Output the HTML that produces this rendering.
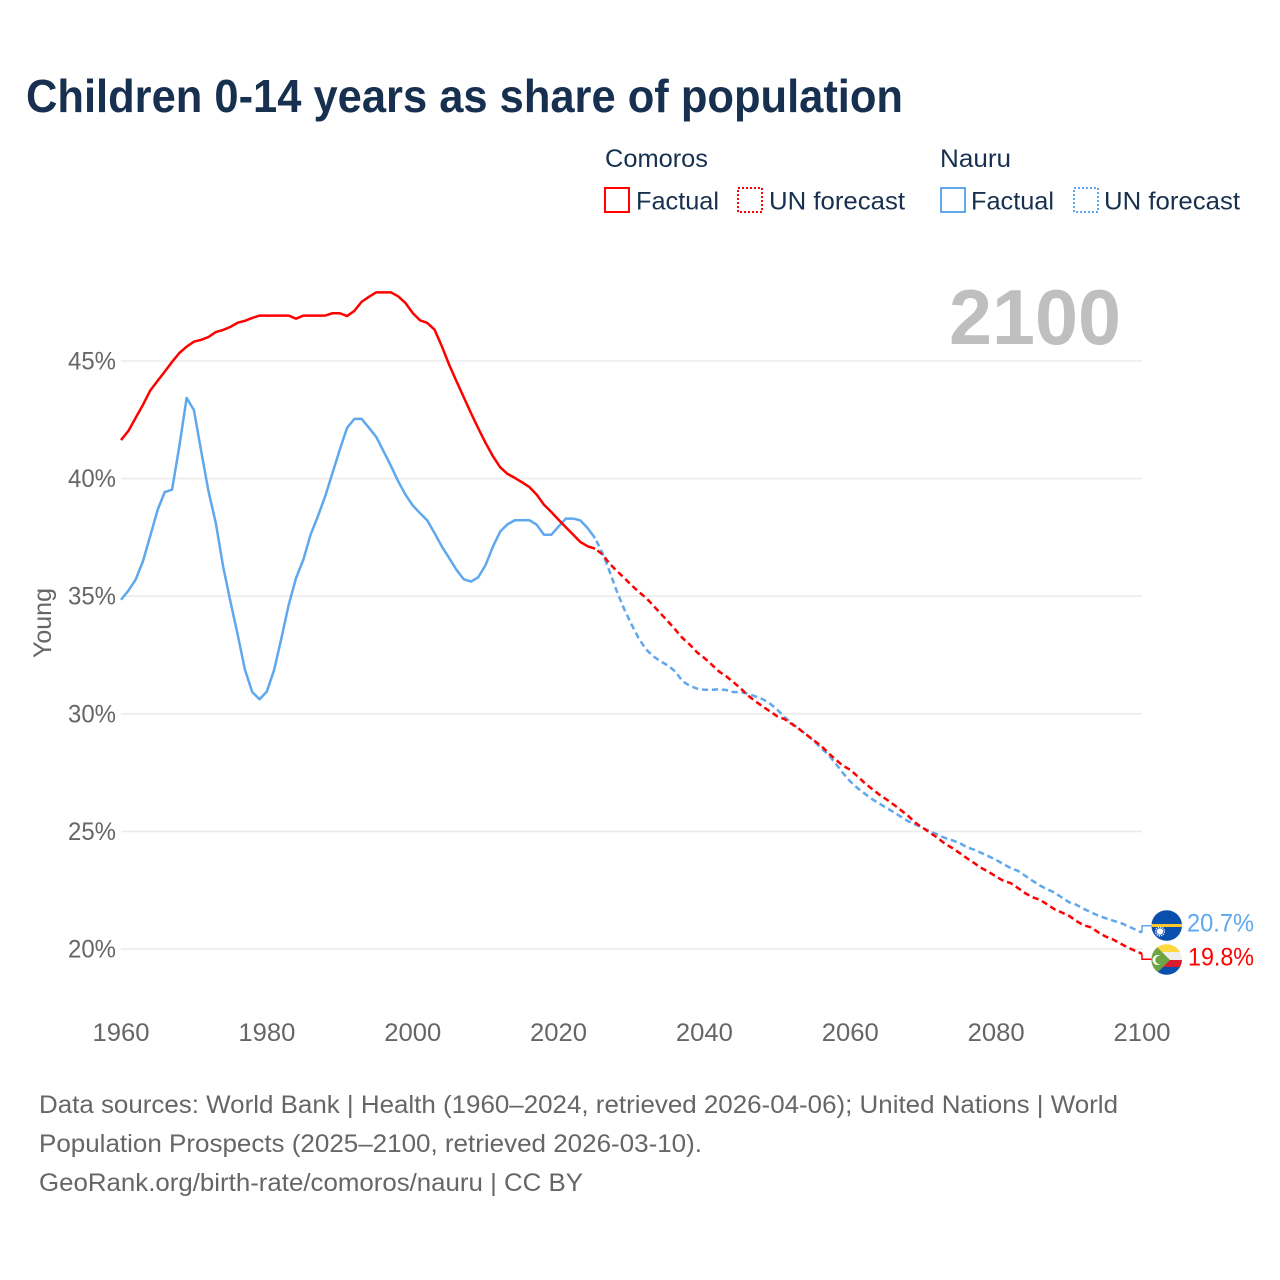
<!DOCTYPE html>
<html lang="en">
<head>
<meta charset="utf-8">
<title>Children 0-14 years as share of population</title>
<style>
html,body{margin:0;padding:0;background:#fff;}
svg{display:block;font-family:"Liberation Sans",sans-serif;}
</style>
</head>
<body>
<svg id="chart" xmlns="http://www.w3.org/2000/svg" width="1280" height="1280" viewBox="0 0 1280 1280">
  <rect width="1280" height="1280" fill="#ffffff"/>
  <text x="26" y="112" font-size="46" font-weight="700" fill="#17304f" textLength="877" lengthAdjust="spacingAndGlyphs">Children 0-14 years as share of population</text>

  <g font-size="25" fill="#17304f">
    <text x="605" y="167" textLength="103" lengthAdjust="spacingAndGlyphs">Comoros</text>
    <rect x="605" y="188" width="24" height="24" fill="none" stroke="#ff0000" stroke-width="2"/>
    <text x="636" y="209.5" textLength="83" lengthAdjust="spacingAndGlyphs">Factual</text>
    <rect x="738" y="188" width="24" height="24" fill="none" stroke="#ff0000" stroke-width="2" stroke-dasharray="2 2"/>
    <text x="769" y="209.5" textLength="136" lengthAdjust="spacingAndGlyphs">UN forecast</text>
  </g>
  <g font-size="25" fill="#17304f">
    <text x="940" y="167" textLength="71" lengthAdjust="spacingAndGlyphs">Nauru</text>
    <rect x="941" y="188" width="24" height="24" fill="none" stroke="#5fa8ee" stroke-width="2"/>
    <text x="971" y="209.5" textLength="83" lengthAdjust="spacingAndGlyphs">Factual</text>
    <rect x="1074" y="188" width="24" height="24" fill="none" stroke="#5fa8ee" stroke-width="2" stroke-dasharray="2 2"/>
    <text x="1104" y="209.5" textLength="136" lengthAdjust="spacingAndGlyphs">UN forecast</text>
  </g>

  <g id="grid"></g>
  <text x="949" y="344" font-size="78" font-weight="700" fill="#bfbfbf" textLength="172" lengthAdjust="spacingAndGlyphs">2100</text>
  <g id="yticks"></g>
  <g id="xticks"></g>
  <text transform="translate(51 658) rotate(-90)" font-size="25" fill="#666666" textLength="70" lengthAdjust="spacingAndGlyphs">Young</text>
  <g id="series"></g>

  <defs>
    <clipPath id="clip-nauru"><circle cx="1166.7" cy="925.5" r="15.3"/></clipPath>
    <clipPath id="clip-comoros"><circle cx="1166.7" cy="959.5" r="15.3"/></clipPath>
  </defs>
  <g clip-path="url(#clip-nauru)">
    <rect x="1151" y="910" width="32" height="31" fill="#0b4fad"/>
    <rect x="1151" y="924" width="32" height="3" fill="#ffc72c"/>
    <circle cx="1160" cy="931.5" r="3.2" fill="#ffffff"/>
    <circle cx="1160" cy="931.5" r="4.4" fill="none" stroke="#ffffff" stroke-width="1.4" stroke-dasharray="1.2 1.1"/>
  </g>
  <g clip-path="url(#clip-comoros)">
    <rect x="1151" y="944" width="32" height="8" fill="#ffd83d"/>
    <rect x="1151" y="952" width="32" height="8" fill="#eeeeee"/>
    <rect x="1151" y="960" width="32" height="7" fill="#d91c2e"/>
    <rect x="1151" y="967" width="32" height="9" fill="#0b4fad"/>
    <polygon points="1151,944 1154,944 1170,960 1154,976 1151,976" fill="#6da544"/>
    <circle cx="1157.5" cy="960" r="5" fill="#ffffff"/>
    <circle cx="1159.5" cy="960" r="4.2" fill="#6da544"/>
  </g>
  <text id="label-nauru" x="1187" y="931.5" font-size="25" fill="#5fa8ee" textLength="67" lengthAdjust="spacingAndGlyphs"></text>
  <text id="label-comoros" x="1188" y="965.5" font-size="25" fill="#ff0000" textLength="66" lengthAdjust="spacingAndGlyphs"></text>

  <g font-size="25" fill="#666666">
    <text x="39" y="1113" textLength="1079" lengthAdjust="spacingAndGlyphs">Data sources: World Bank | Health (1960–2024, retrieved 2026-04-06); United Nations | World</text>
    <text x="39" y="1152" textLength="663" lengthAdjust="spacingAndGlyphs">Population Prospects (2025–2100, retrieved 2026-03-10).</text>
    <text x="39" y="1191" textLength="544" lengthAdjust="spacingAndGlyphs">GeoRank.org/birth-rate/comoros/nauru | CC BY</text>
  </g>
</svg>
<script>
const xTicks = [1960, 1980, 2000, 2020, 2040, 2060, 2080, 2100];
const yTicks = [20, 25, 30, 35, 40, 45];
const factualStartYear = 1960;
const forecastStartYear = 2025;
const comorosFactual = [
  41.64,42.02,42.58,43.13,43.74,44.15,44.55,44.96,45.34,45.61,
  45.82,45.90,46.02,46.23,46.32,46.45,46.63,46.71,46.83,46.93,
  46.93,46.93,46.93,46.93,46.80,46.93,46.93,46.93,46.93,47.03,
  47.03,46.91,47.13,47.52,47.73,47.92,47.92,47.92,47.75,47.47,
  47.04,46.73,46.62,46.33,45.62,44.84,44.14,43.46,42.78,42.13,
  41.51,40.95,40.48,40.20,40.03,39.84,39.64,39.32,38.89,38.58,
  38.25,37.93,37.62,37.30,37.12,37.02
];
const nauruFactual = [
  34.85,35.23,35.70,36.48,37.55,38.65,39.43,39.53,41.38,43.43,
  42.91,41.16,39.46,38.11,36.27,34.78,33.36,31.87,30.92,30.62,
  30.95,31.87,33.22,34.64,35.77,36.55,37.62,38.40,39.25,40.24,
  41.23,42.16,42.54,42.54,42.16,41.77,41.16,40.55,39.89,39.32,
  38.86,38.53,38.22,37.68,37.11,36.62,36.12,35.72,35.62,35.81,
  36.33,37.11,37.75,38.06,38.23,38.23,38.23,38.04,37.61,37.61,
  37.96,38.30,38.30,38.22,37.89,37.47
];
const comorosForecast = [
  37.02,36.78,36.38,36.07,35.78,35.47,35.18,34.93,34.60,34.26,
  33.93,33.58,33.22,32.94,32.61,32.37,32.09,31.80,31.59,31.34,
  31.07,30.77,30.53,30.31,30.10,29.89,
  29.77,29.56,29.35,29.11,28.87,28.64,28.33,28.05,27.79,27.62,
  27.34,27.05,26.80,26.56,26.35,26.13,25.89,25.64,25.35,25.14,
  24.93,24.72,24.47,24.29,24.08,23.86,23.65,23.44,23.27,23.08,
  22.90,22.80,22.59,22.37,22.20,22.09,21.90,21.69,21.55,21.41,
  21.19,21.01,20.92,20.71,20.53,20.41,20.24,20.07,19.93,19.80
];
const nauruForecast = [
  37.47,36.85,36.05,35.20,34.45,33.80,33.20,32.74,32.44,32.23,
  32.05,31.80,31.38,31.19,31.07,31.02,31.02,31.04,31.01,30.92,
  30.92,30.85,30.74,30.62,30.43,30.17,
  29.86,29.60,29.35,29.11,28.85,28.54,28.26,27.88,27.48,27.12,
  26.84,26.60,26.37,26.18,25.99,25.81,25.61,25.42,25.28,25.14,
  25.00,24.86,24.72,24.62,24.50,24.33,24.22,24.08,23.94,23.79,
  23.61,23.44,23.32,23.11,22.90,22.70,22.54,22.40,22.19,21.99,
  21.88,21.71,21.56,21.42,21.31,21.21,21.12,20.98,20.84,20.70
];

const NS = 'http://www.w3.org/2000/svg';
const xScale = function (year) { return 121 + (year - 1960) * (1142 - 121) / 140; };
const yScale = function (pct) { return 949 - (pct - 20) * 23.52; };
const COMOROS_COLOR = '#ff0000';
const NAURU_COLOR = '#5fa8ee';

function make(tag, attrs, parent) {
  const el = document.createElementNS(NS, tag);
  Object.keys(attrs).forEach(function (k) { el.setAttribute(k, attrs[k]); });
  parent.appendChild(el);
  return el;
}
function linePath(values, startYear) {
  return values.map(function (v, i) {
    return (i ? 'L' : 'M') + xScale(startYear + i).toFixed(2) + ' ' + yScale(v).toFixed(2);
  }).join(' ');
}

const gridGroup = document.getElementById('grid');
const yTickGroup = document.getElementById('yticks');
yTicks.forEach(function (t) {
  const line = make('line', { x1: 121, x2: 1142, y1: yScale(t), y2: yScale(t), stroke: '#ececec', 'stroke-width': 1.6 }, gridGroup);
  
  
  const label = make('text', { x: 68, y: yScale(t) + 8.5, 'font-size': 25, fill: '#666666', textLength: 48, lengthAdjust: 'spacingAndGlyphs' }, yTickGroup);
  label.textContent = t + '%';
  
  
});

const xTickGroup = document.getElementById('xticks');
xTicks.forEach(function (t) {
  const label = make('text', { x: xScale(t) - 28.5, y: 1041, 'font-size': 25, fill: '#666666', textLength: 57, lengthAdjust: 'spacingAndGlyphs' }, xTickGroup);
  label.textContent = String(t);
  
  
});

const seriesGroup = document.getElementById('series');
function drawSeries(name, color, factual, forecast, flagY) {
  const solid = make('path', { d: linePath(factual, factualStartYear), fill: 'none', stroke: color, 'stroke-width': 2.5, 'stroke-linejoin': 'round' }, seriesGroup);
  
  
  const dashed = make('path', { d: linePath(forecast, forecastStartYear), fill: 'none', stroke: color, 'stroke-width': 2.5, 'stroke-dasharray': '6.2 3.8', 'stroke-dashoffset': 7 }, seriesGroup);
  
  
  const lastValue = forecast[forecast.length - 1];
  const endX = xScale(forecastStartYear + forecast.length - 1);
  const leader = make('path', { d: 'M' + endX + ' ' + yScale(lastValue) + ' L' + endX + ' ' + flagY + ' L1152 ' + flagY, fill: 'none', stroke: color, 'stroke-width': 1.5 }, seriesGroup);
  
  
  return lastValue;
}
const nauruLast = drawSeries('nauru', NAURU_COLOR, nauruFactual, nauruForecast, 925.7);
const comorosLast = drawSeries('comoros', COMOROS_COLOR, comorosFactual, comorosForecast, 959.3);
document.getElementById('label-nauru').textContent = nauruLast.toFixed(1) + '%';
document.getElementById('label-comoros').textContent = comorosLast.toFixed(1) + '%';
</script>
</body>
</html>
